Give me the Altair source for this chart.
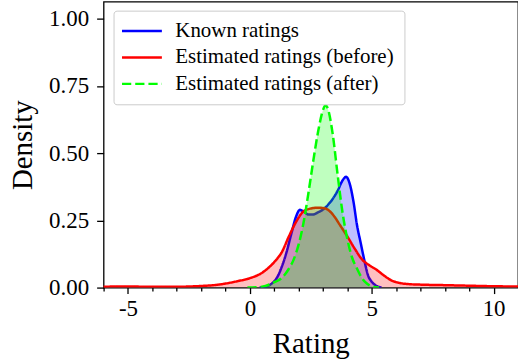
import altair as alt
import pandas as pd

# Kernel-density curves of the rating distributions (rating, density)
known_x = [0.4, 0.7, 0.9, 1.1, 1.3, 1.5, 1.7, 1.9, 2.05, 2.2, 2.4, 2.6, 2.8, 3.0, 3.2,
           3.4, 3.6, 3.8, 3.95, 4.1, 4.25, 4.4, 4.55, 4.7, 4.85, 5.0, 5.2, 5.4]
known_y = [0.0, 0.005, 0.015, 0.035, 0.075, 0.13, 0.2, 0.265, 0.289, 0.283, 0.272, 0.272,
           0.28, 0.29, 0.307, 0.33, 0.36, 0.398, 0.412, 0.385, 0.32, 0.23, 0.165, 0.1,
           0.045, 0.022, 0.006, 0.0]

before_x = [-6.3, -5.0, -4.0, -3.0, -2.5, -2.0, -1.5, -1.0, -0.5, 0.0, 0.5, 1.0, 1.3, 1.6,
            1.9, 2.2, 2.5, 2.8, 3.1, 3.4, 3.7, 4.0, 4.3, 4.6, 4.9, 5.2, 5.5, 5.8, 6.1,
            6.5, 7.0, 8.0, 9.0, 10.0, 11.2]
before_y = [0.003, 0.004, 0.003, 0.003, 0.004, 0.006, 0.009, 0.015, 0.024, 0.035, 0.055,
            0.095, 0.13, 0.19, 0.245, 0.283, 0.294, 0.297, 0.294, 0.272, 0.232, 0.19,
            0.145, 0.105, 0.083, 0.066, 0.045, 0.027, 0.018, 0.013, 0.011, 0.009, 0.007,
            0.005, 0.004]

after_x = [-0.1, 0.5, 1.0, 1.3, 1.6, 1.8, 2.0, 2.2, 2.4, 2.6, 2.8, 3.0, 3.1, 3.2, 3.4,
           3.6, 3.8, 4.0, 4.2, 4.4, 4.6, 4.8, 5.0, 5.3]
after_y = [0.0, 0.003, 0.02, 0.035, 0.07, 0.105, 0.16, 0.24, 0.35, 0.47, 0.58, 0.66,
           0.678, 0.665, 0.57, 0.42, 0.28, 0.18, 0.11, 0.07, 0.035, 0.015, 0.005, 0.0]

SERIES = ["Known ratings", "Estimated ratings (before)", "Estimated ratings (after)"]
COLORS = ["#0000ff", "#ff0000", "#00ff00"]
DASHES = [[1, 0], [1, 0], [9.25, 4]]

frames = []
for name, xs, ys in zip(SERIES, [known_x, before_x, after_x], [known_y, before_y, after_y]):
    frames.append(pd.DataFrame({"rating": xs, "density": ys, "series": name}))
df = pd.concat(frames, ignore_index=True)

FONT = "Liberation Serif"

x_enc = alt.X(
    "rating:Q",
    scale=alt.Scale(domain=[-6, 11], nice=False, zero=False),
    axis=alt.Axis(
        title="Rating",
        values=list(range(-6, 11)),
        labelExpr="datum.value % 5 === 0 ? (datum.value < 0 ? '-' + abs(datum.value) : '' + datum.value) : ''",
        tickSize={"condition": {"test": "datum.value % 5 === 0", "value": 6}, "value": 3.5},
        labelOverlap=False,
        labelFlush=False,
        labelPadding=4,
        titlePadding=9,
    ),
)
y_enc = alt.Y(
    "density:Q",
    scale=alt.Scale(domain=[0, 1.063], nice=False),
    axis=alt.Axis(
        title="Density",
        values=[0, 0.25, 0.5, 0.75, 1.0],
        format=".2f",
        tickSize=7,
        labelPadding=8,
        titlePadding=11,
    ),
)

color_scale = alt.Scale(domain=SERIES, range=COLORS)
dash_scale = alt.Scale(domain=SERIES, range=DASHES)
legend = alt.Legend(title=None)

layers = []
for name, color in zip(SERIES, COLORS):
    base = alt.Chart(df).transform_filter(alt.datum.series == name)
    area = base.mark_area(color=color, opacity=0.25, interpolate="monotone", clip=True).encode(
        x=x_enc, y=y_enc
    )
    line = base.mark_line(strokeWidth=2.5, interpolate="monotone", clip=True).encode(
        x=x_enc,
        y=y_enc,
        color=alt.Color("series:N", scale=color_scale, legend=legend, sort=SERIES),
        strokeDash=alt.StrokeDash("series:N", scale=dash_scale, legend=legend, sort=SERIES),
    )
    layers += [area, line]

chart = (
    alt.layer(*layers)
    .properties(
        width=416,
        height=287,
        autosize=alt.AutoSizeParams(type="none"),
        padding={"left": 104, "top": 1, "right": 0, "bottom": 74},
        background="white",
    )
    .configure(font=FONT)
    .configure_view(stroke="black", strokeWidth=1.3)
    .configure_axis(
        domain=False,
        grid=False,
        tickColor="black",
        tickWidth=1.3,
        labelFont=FONT,
        labelFontSize=23,
        labelColor="black",
        titleFont=FONT,
        titleFontSize=29,
        titleFontWeight="normal",
        titleColor="black",
    )
    .configure_legend(
        orient="none",
        legendX=10,
        legendY=9,
        fillColor="white",
        strokeColor="#cccccc",
        cornerRadius=3,
        padding=10,
        rowPadding=4.5,
        # wide horizontal stroke drawn from a small symbol size, so rows stay compact
        symbolType="M-4,0H4",
        symbolSize=100,
        symbolOffset=8,
        symbolStrokeWidth=2.5,
        labelFont=FONT,
        labelFontSize=21,
        labelColor="black",
        labelOffset=23,
        labelLimit=400,
    )
)

chart.save("out.html", embed_options={"renderer": "svg", "actions": False})
